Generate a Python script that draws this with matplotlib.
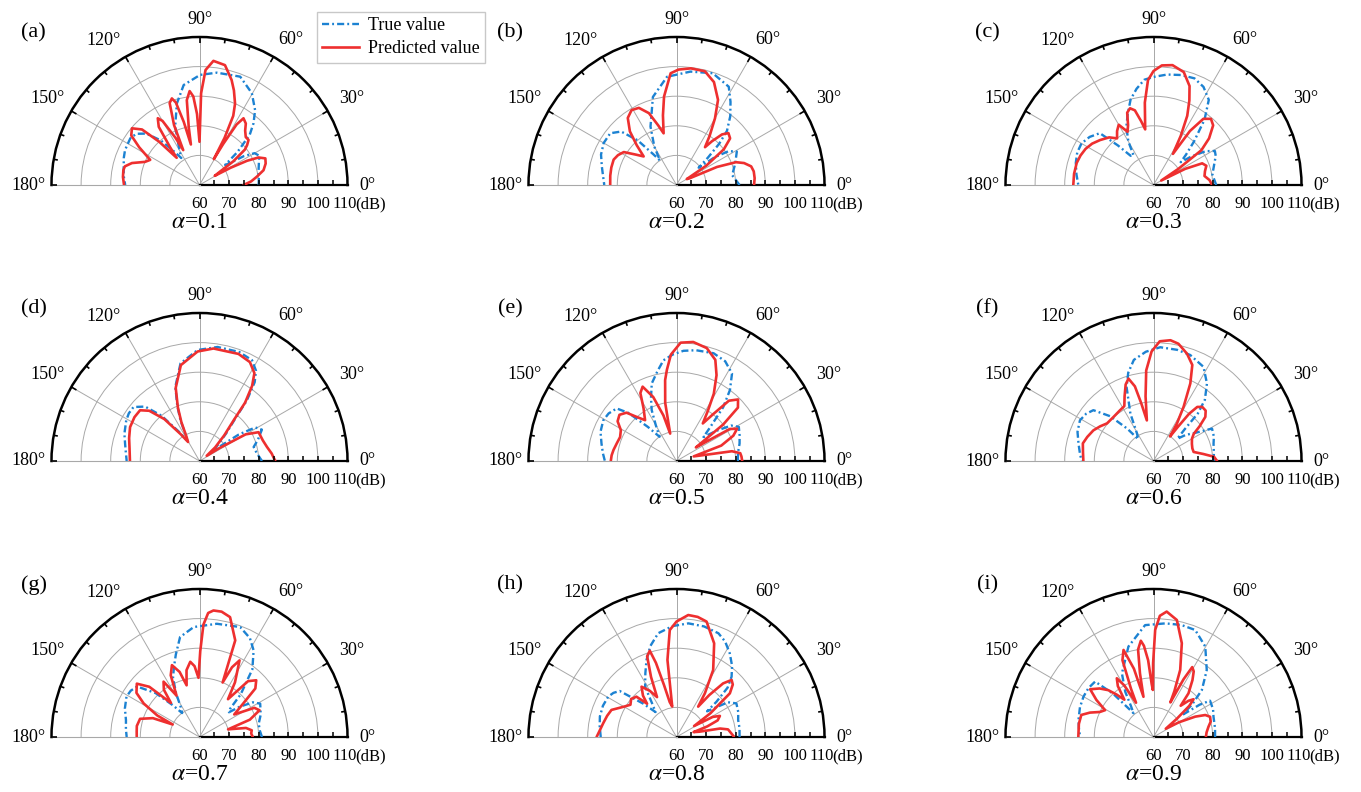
import numpy as np
import matplotlib
matplotlib.use("Agg")
import matplotlib.pyplot as plt
from matplotlib.lines import Line2D
from matplotlib.transforms import offset_copy

# directivity curves: angle (deg) and level (dB)
true_a_deg = [0, 7, 14.3, 21, 26, 30, 33, 36, 38, 41, 45, 48.8, 53.4, 60.3, 69.4, 81.2, 89.7, 99, 105.5, 112.6,
              118, 121.4, 124, 127, 131, 136, 141, 146, 154.8, 160, 166, 173, 180]
true_a_db = [80, 80.2, 80.6, 81.5, 82.5, 81.5, 78, 72.5, 71, 77, 84, 87.7, 91.5, 95.7, 99.1, 98.4, 97.2, 94.2, 88.6, 81.4,
             75, 72.5, 71, 74, 80, 85, 87.5, 88.2, 87.8, 87.2, 86.4, 85.8, 85.1]
pred_a_deg = [0, 4, 8.3, 13, 18, 22, 25, 27, 29, 31, 33, 35, 38, 40, 42.6, 46, 50, 53, 56.6, 58.5,
              60, 61, 62, 64, 66.4, 70, 73, 78, 83.6, 87, 89, 90, 92, 94, 96, 98.5, 100.5, 102, 104, 106,
              107.7, 110, 113, 115, 117, 120, 122, 125, 128, 130, 133, 136, 140, 144, 148, 153, 157, 162, 166, 169,
              174, 180]
pred_a_db = [74.9, 77.5, 79.6, 82.2, 83.5, 84, 82, 78, 72, 66, 68, 74, 79.5, 81, 82.5, 82.5, 84, 86, 87, 84,
             76, 70, 78, 86, 90, 94, 97.1, 101.4, 102.2, 98.9, 91, 74.6, 84, 90, 91.9, 89, 80, 74, 82, 89,
             90.7, 89.5, 82, 73, 78, 85, 86.6, 84, 76, 72, 80, 87, 89.8, 88.5, 84, 78.7, 80, 84, 86, 86.2,
             86, 85.5]

true_b_deg = [0, 10, 20, 29, 33, 36, 38, 41, 44, 47, 52, 57, 62, 72, 83, 95, 105, 114, 120, 124,
              127, 131, 136, 142, 150, 158, 166, 173, 180]
true_b_db = [81.3, 79.1, 81.1, 83.3, 81, 76, 69.5, 74, 80, 85, 89.5, 93.5, 97.6, 99.7, 98.6, 96.7, 90.8, 81.6, 75, 70,
             73, 80, 86, 88.4, 88.4, 87.5, 86, 85, 84.4]
pred_b_deg = [0, 5, 10, 14, 18, 21, 24, 27, 30, 33, 37, 41, 45, 48, 51, 53, 56, 60, 64, 70,
              76, 83, 89, 93, 98, 101, 104, 107, 111, 116, 121, 126, 131, 135, 139, 143, 148, 153, 158, 165,
              172, 180]
pred_b_db = [86.2, 86.5, 86.5, 86, 84, 81.5, 75, 65, 64, 72, 80, 84, 84.8, 83, 79, 76, 80, 86, 92, 97,
             99.6, 99.7, 99, 97.8, 90.2, 84, 78, 81, 86, 89, 89.5, 88, 84, 79, 74.7, 77, 81, 82.2, 82.9, 82.8,
             82.6, 82.4]

true_c_deg = [0, 10, 18, 25, 29, 33, 37, 40, 43, 47, 52, 57, 63, 69, 76, 83, 90, 95, 100, 105,
              110, 115, 120, 124, 128, 132, 136, 143, 150, 157, 164, 172, 180]
true_c_db = [81.2, 80.2, 81.5, 83.2, 83.7, 81, 76, 72, 75, 80, 88, 94.3, 97.2, 98.6, 98.3, 97.6, 96.5, 95.7, 93, 89.9,
             85.5, 81.7, 77, 72, 72.5, 78, 85.2, 87, 88.1, 88, 87.3, 86.3, 85.4]
pred_c_deg = [0, 5, 10, 15, 20, 24, 27, 30, 33, 36, 40, 45, 49, 53, 56, 58, 61, 64, 67, 70,
              75, 81, 86, 90, 93, 96, 98.5, 101, 104, 107, 110, 113, 116, 120, 124, 128, 133, 140, 146, 152,
              158, 164, 172, 180]
pred_c_db = [79.8, 79, 77.5, 78, 79, 78, 72, 63, 70, 80, 84.5, 88.5, 89.6, 88, 82, 72.4, 79, 86, 91, 95.6,
             99.5, 101, 100.5, 98.5, 95.5, 88, 79, 82, 86, 87.1, 86, 82, 80, 83.5, 82, 80, 82, 83.6, 85, 86,
             86.6, 87, 87.1, 87.1]

true_d_deg = [0, 8, 14.5, 20, 26.7, 31, 34, 37, 41, 46, 50, 52, 55, 58, 62.5, 70, 81, 91, 101, 108,
              112, 115, 118, 121, 125, 130, 135, 140.7, 146, 151, 160, 167, 174, 180]
true_d_db = [81.1, 79.5, 78.9, 81, 83.6, 82, 76, 66, 68, 73, 79, 86, 92.5, 96, 98.4, 99.2, 99, 97.5, 93.6, 86.4,
             80, 75.2, 70, 68, 72, 80, 86, 88.8, 88.8, 88.3, 87, 85.8, 85, 84.6]
pred_d_deg = [0, 6, 11.7, 18, 26, 30, 33, 36, 41, 46, 50, 52, 55, 58, 63, 70, 82.9, 91, 101, 108,
              112, 115, 118, 121, 125, 130, 135, 139.5, 146, 154, 162, 170, 180]
pred_d_db = [85.6, 84.5, 83.3, 82.5, 82.2, 78, 68, 63, 67, 72, 78, 85, 91, 95, 97.5, 98.5, 98.3, 97, 93, 86,
             79.5, 74.5, 69.5, 67.5, 71, 78.5, 84, 86.4, 86.5, 86.1, 85, 84, 83.5]

true_e_deg = [0, 8, 15.4, 22, 28.7, 33, 37, 41.6, 45, 49, 53, 57.6, 64, 71, 80, 86.4, 92, 97.4, 102, 107.7,
              112, 116, 120, 125, 130, 135, 138.7, 145, 151, 159, 167, 174, 180]
true_e_db = [80.7, 81, 82.1, 83, 84, 82, 77, 72.2, 76, 84, 90, 95, 97.5, 98.5, 98, 97.3, 96, 94.3, 91, 87.5,
             83, 79.1, 74, 70, 75, 83, 86.9, 88, 88.3, 87.5, 86, 85, 84.2]
pred_e_deg = [0, 4, 7, 10, 12, 15, 19, 24, 28, 31, 33, 35, 38, 41, 45, 49, 52, 55, 58, 61,
              65, 69, 75, 82, 88, 93, 96, 98, 101, 103, 106, 110, 114.5, 118, 122, 127.6, 132, 136, 141, 146,
              151, 157, 163, 170, 175, 180]
pred_e_db = [82.2, 82, 81.7, 79, 70, 66, 76, 81, 83.2, 81, 72, 68, 80, 87.5, 89.4, 87, 80, 75.5, 80, 86,
             92, 96.6, 99.5, 100.6, 100, 96, 91, 87.6, 80, 69.5, 76, 83, 87.6, 86, 81, 77.4, 80, 83.5, 84.8, 84,
             81.5, 80.7, 81, 81.6, 82, 82.2]

true_f_deg = [0, 8, 16, 22, 29, 34, 39, 43, 45.5, 47, 50, 55.4, 62, 70.9, 78, 86.6, 94, 101, 106, 110,
              116, 121, 125, 129, 134, 139.8, 145, 151, 159, 167, 174, 180]
true_f_db = [80.3, 80.6, 81.1, 82, 82.6, 77, 74, 71, 75, 82, 87, 91.8, 96, 97.9, 98.4, 98.5, 97, 94.8, 91, 86.6,
             77.8, 70.8, 69, 74, 81, 86.6, 87.8, 88.4, 87.5, 86, 85, 84.3]
pred_f_deg = [0, 4, 8, 12.7, 18, 24, 30, 34, 37, 40.4, 44, 48, 51, 53, 54.5, 56, 58, 61, 64.6, 68,
              72.7, 78, 82, 87, 91, 94.6, 97, 99.3, 102, 104, 106.9, 110, 114, 118, 124, 132, 141, 147, 153, 160,
              166, 173, 180]
pred_f_db = [81.5, 80.5, 77, 73.9, 73.8, 74.2, 75, 76.4, 79.5, 83, 84.5, 84.6, 83.5, 80, 74, 70, 75, 81, 89, 95,
             98, 100.5, 101.2, 100.5, 97, 90.7, 82, 73.9, 80, 86, 89.1, 87.5, 84, 81, 80.5, 80.1, 80.2, 81.5, 82.8, 83.8,
             84.6, 84, 83.7]

true_g_deg = [0, 6, 12.7, 20, 28.8, 33, 37, 40, 42.7, 46, 52, 58, 63, 69.7, 81.3, 93, 101, 106, 110, 114,
              118, 122, 126, 130, 135, 141, 146, 151, 159, 167, 174, 180]
true_g_db = [81.1, 80.5, 80.5, 82, 83.4, 81.5, 77, 73, 74.1, 80, 89, 94.5, 97.5, 99.6, 98.7, 97.2, 94.4, 89, 85.2, 82,
             77, 72, 70, 74, 81, 87.1, 88, 88.2, 87, 85.5, 85, 84.6]
pred_g_deg = [0, 4, 7.3, 11, 15, 19, 24, 28, 33, 37, 41, 45, 49, 53, 57, 62.4, 65, 67, 69.7, 75.7,
              80, 83.7, 86, 88, 89.5, 91, 94, 97, 101, 104, 107, 111, 115, 119, 123, 127, 130, 135, 139.6, 145,
              149, 153, 155, 158, 163, 170, 175, 180]
pred_g_db = [78, 77.5, 77.8, 76, 70, 78, 82.2, 81, 74, 78, 85, 87.1, 85, 76, 82, 89.2, 86, 80, 94.8, 101.8,
             103, 103, 102, 98, 89, 80, 84, 85.6, 83, 78, 83, 86, 83, 76, 82.3, 80, 75, 84, 87.8, 86,
             82, 76, 70, 77, 81, 81.5, 81.3, 81.2]

true_h_deg = [0, 8, 15.4, 22, 29.3, 34, 37.5, 40, 41.4, 44, 47.6, 52, 57.5, 63, 68, 76, 84, 92, 100, 106,
              111.3, 116, 122, 126, 130, 135, 141, 145, 149.4, 157, 165, 172, 180]
true_h_db = [81.3, 81.5, 81.6, 82.5, 83.2, 81, 76, 73.5, 78, 84, 87.6, 90.5, 93.5, 96.2, 97.8, 98.5, 98.6, 97.5, 95.6, 92,
             87.9, 84, 80, 74, 71, 76, 84.7, 86, 86.8, 87, 86.8, 86.2, 85.6]
pred_h_deg = [0, 4, 8.4, 11, 13, 16, 19, 22, 25.9, 29, 32, 35, 39.3, 43, 46, 49, 52, 54.5, 57, 61.3,
              68.1, 75.4, 80, 84.5, 90, 93.6, 96.7, 98, 101, 103.5, 105.5, 107.2, 110, 113, 116, 120, 124.8, 129, 131.5, 134.8,
              140, 145, 150, 157.4, 163, 169.4, 175, 180]
pred_h_db = [79.5, 78.5, 77.6, 75, 68, 66, 71, 75, 76.3, 74, 67, 74, 83.3, 86, 86.8, 84, 78, 72.6, 77.6, 85.8,
             94.1, 100.3, 101.2, 101.4, 99, 96.2, 86.2, 70.4, 72, 78, 86, 90.5, 89, 82, 75, 78, 80.7, 78, 75, 79.2,
             80, 79, 80.5, 83.8, 84.5, 85.2, 86, 87]

true_i_deg = [0, 8, 18.7, 25, 32.7, 35, 37.6, 40, 44.2, 51.5, 60.2, 68.7, 76, 84, 94.3, 105.5, 116.4, 122, 126, 130,
              133, 136.5, 143, 150, 158, 167, 173, 180]
true_i_db = [80.8, 81, 81.4, 82.2, 82.7, 79, 72, 77, 82.8, 88.9, 95.2, 98.8, 99, 98.6, 97.9, 91.7, 84, 78, 73, 70.5,
             80, 87.2, 87.5, 87.3, 86.8, 86, 85.4, 84.8]
pred_i_deg = [0, 5, 10.6, 15, 19.7, 23, 26, 30, 34, 38, 41, 43.3, 46, 49, 51.3, 55.6, 58.5, 61, 62.5, 64,
              65.5, 68.3, 73.2, 78.7, 84, 87, 89.1, 90.3, 90.8, 92, 94, 96, 97.5, 100, 102, 104, 106, 109, 112, 115,
              117, 119.5, 122, 125, 128, 131, 134, 138, 143, 147, 151, 155, 159, 163, 170, 180]
pred_i_db = [77.7, 78, 78.9, 80, 80.3, 79, 75.7, 70, 65, 70, 76, 78.6, 77, 74, 78.9, 83.3, 86, 87, 82, 73,
             77, 84.4, 93.1, 100.3, 102.6, 101, 96.2, 85, 75.9, 78, 86, 91, 92.8, 90, 82, 74, 84, 91.1, 88, 78,
             73, 80, 83.4, 81, 76, 79, 82, 84.5, 86.8, 83, 78.7, 80, 83, 85.5, 85.6, 85.4]

alpha_values = [0.1, 0.2, 0.3, 0.4, 0.5, 0.6, 0.7, 0.8, 0.9]
panel_letters = ['a', 'b', 'c', 'd', 'e', 'f', 'g', 'h', 'i']
theta_ticks = [0, 30, 60, 90, 120, 150, 180]
# where each angle label sits: direction (deg) and distance beyond the arc (px)
theta_label_dir = [0, 29.8, 58, 90, 123.5, 150.3, 180]
theta_label_gap = [19.5, 27, 24, 17, 25, 27, 23]
radial_ticks = [60, 70, 80, 90, 100, 110]

panels = [
    (true_a_deg, true_a_db, pred_a_deg, pred_a_db),
    (true_b_deg, true_b_db, pred_b_deg, pred_b_db),
    (true_c_deg, true_c_db, pred_c_deg, pred_c_db),
    (true_d_deg, true_d_db, pred_d_deg, pred_d_db),
    (true_e_deg, true_e_db, pred_e_deg, pred_e_db),
    (true_f_deg, true_f_db, pred_f_deg, pred_f_db),
    (true_g_deg, true_g_db, pred_g_deg, pred_g_db),
    (true_h_deg, true_h_db, pred_h_deg, pred_h_db),
    (true_i_deg, true_i_db, pred_i_deg, pred_i_db),
]

W, H = 1361, 792
R = 148  # half-disc radius in pixels
col_x = [199.5, 676.5, 1153.5]
row_y = [185, 461, 737]

BLUE = '#1c82d2'
RED = '#ee2f2f'
GRID = '#a8a8a8'
DASHDOT = (0, (3.0, 1.3, 0.8, 1.3))

plt.rcParams['font.family'] = ['Liberation Serif', 'DejaVu Serif']
plt.rcParams['mathtext.fontset'] = 'stix'

fig = plt.figure(figsize=(W / 100, H / 100), dpi=100)


def draw_panel(idx, cx, cy):
    td, tdb, pdg, pdb = panels[idx]
    assert len(td) == len(tdb) and len(pdg) == len(pdb)
    # polar axes keep a square box; the half disc sits in its middle band
    bottom = cy + R / 2
    ax = fig.add_axes([(cx - R) / W, (H - bottom) / H, 2 * R / W, 2 * R / H], projection='polar')

    ax.plot(np.deg2rad(td), tdb, color=BLUE, lw=1.7, ls=DASHDOT, zorder=3,
            dash_joinstyle='round')
    ax.plot(np.deg2rad(pdg), pdb, color=RED, lw=1.9, zorder=4,
            solid_joinstyle='round', solid_capstyle='round')

    # tick marks: inward on the arc, upward on the 0 deg baseline
    for t in range(0, 181, 10):
        L = 2.0 if t % 30 == 0 else 1.4
        ax.plot([np.deg2rad(t)] * 2, [110 - L, 110], color='k', lw=1.2,
                clip_on=False, solid_capstyle='butt', zorder=5)
    for r in range(65, 110, 5):
        h = 1.7
        x = r - 60
        ax.plot([0, np.arctan2(h, x)], [r, 60 + np.hypot(x, h)], color='k', lw=1.1,
                clip_on=False, solid_capstyle='butt', zorder=5)

    ax.set_thetamin(0)
    ax.set_thetamax(180)
    ax.set_ylim(60, 110)
    ax.set_autoscale_on(False)

    ax.set_xticks(np.deg2rad(theta_ticks))
    ax.set_xticklabels([])
    ax.tick_params(axis='x', length=0)
    ax.set_yticks([70, 80, 90, 100])
    ax.set_yticklabels([])
    ax.tick_params(axis='y', length=0)
    ax.grid(True, color=GRID, lw=0.7)

    ax.spines['polar'].set_color('k')
    ax.spines['polar'].set_linewidth(1.8)
    ax.spines['start'].set_color('k')
    ax.spines['start'].set_linewidth(1.6)
    ax.spines['end'].set_color(GRID)
    ax.spines['end'].set_linewidth(0.8)

    for t, d, gap in zip(theta_ticks, theta_label_dir, theta_label_gap):
        a = np.deg2rad(d)
        tr = offset_copy(ax.transData, fig=fig, x=gap * np.cos(a), y=gap * np.sin(a), units='dots')
        ax.text(a, 110, f'{t}°', transform=tr, ha='center', va='center', fontsize=13)

    for r in radial_ticks:
        tr = offset_copy(ax.transData, fig=fig, x=(-3 if r == 110 else 0), y=-19, units='dots')
        ax.text(0, r, str(r), transform=tr, ha='center', va='center', fontsize=12)
    tr = offset_copy(ax.transData, fig=fig, x=8, y=-19, units='dots')
    ax.text(0, 110, '(dB)', transform=tr, ha='left', va='center', fontsize=12)

    fig.text((cx - 166) / W, 1 - (cy - 152) / H, f'({panel_letters[idx]})',
             ha='center', va='center', fontsize=16)
    fig.text(cx / W, 1 - (cy + 38) / H, rf'$\alpha$={alpha_values[idx]}',
             ha='center', va='center', fontsize=17)
    return ax


for i in range(9):
    draw_panel(i, col_x[i % 3], row_y[i // 3])

handles = [Line2D([], [], color=BLUE, lw=1.7, ls=DASHDOT),
           Line2D([], [], color=RED, lw=1.9)]
fig.legend(handles, ['True value', 'Predicted value'], loc='upper left',
           bbox_to_anchor=(317 / W, 1 - 12 / H), fontsize=13, frameon=True,
           fancybox=False, edgecolor='#c8c8c8', framealpha=1, handlelength=2.0,
           borderpad=0.3, labelspacing=0.33, handletextpad=0.5, borderaxespad=0)

fig.savefig('out.png', dpi=100)
